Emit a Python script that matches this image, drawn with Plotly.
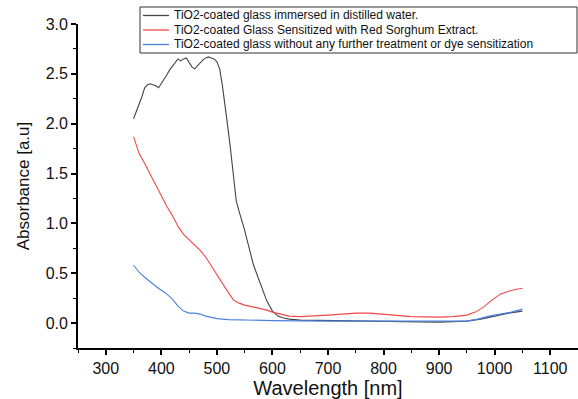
import plotly.graph_objects as go

# ---- data ----
wl_water = [350, 355, 360, 365, 370, 375, 380, 385, 390, 395, 400, 405, 410, 415, 420, 425, 430, 435,
            440, 445, 450, 455, 460, 465, 470, 475, 480, 485, 490, 495, 500, 505, 510, 515, 520, 525,
            530, 535, 540, 545, 550, 555, 560, 565, 570, 580, 590, 600, 610, 620, 630, 650, 700, 750,
            800, 850, 900, 950, 975, 1000, 1025, 1050]
abs_water = [2.05, 2.12, 2.20, 2.27, 2.36, 2.39, 2.40, 2.39, 2.38, 2.36, 2.40, 2.45, 2.49, 2.54, 2.58,
             2.62, 2.65, 2.63, 2.65, 2.66, 2.61, 2.57, 2.55, 2.58, 2.62, 2.64, 2.66, 2.67, 2.66, 2.65,
             2.62, 2.55, 2.38, 2.18, 1.95, 1.72, 1.48, 1.22, 1.12, 1.03, 0.93, 0.82, 0.70, 0.60, 0.52,
             0.36, 0.22, 0.12, 0.07, 0.05, 0.04, 0.03, 0.025, 0.02, 0.015, 0.01, 0.01, 0.02, 0.04,
             0.07, 0.10, 0.12]

wl_sorghum = [350, 355, 360, 370, 380, 390, 400, 410, 420, 430, 440, 450, 460, 470, 480, 490, 500,
              510, 520, 530, 540, 550, 560, 575, 590, 600, 615, 630, 650, 675, 700, 725, 750, 775,
              800, 825, 850, 900, 925, 950, 965, 980, 995, 1010, 1025, 1040, 1050]
abs_sorghum = [1.87, 1.78, 1.70, 1.60, 1.49, 1.38, 1.27, 1.17, 1.08, 0.97, 0.89, 0.84, 0.79, 0.73,
               0.66, 0.57, 0.48, 0.39, 0.31, 0.23, 0.20, 0.18, 0.17, 0.15, 0.13, 0.11, 0.09, 0.07,
               0.065, 0.07, 0.08, 0.09, 0.10, 0.10, 0.09, 0.075, 0.065, 0.06, 0.065, 0.08, 0.11,
               0.16, 0.23, 0.29, 0.32, 0.34, 0.35]

wl_plain = [350, 360, 370, 380, 390, 400, 410, 420, 430, 440, 450, 460, 470, 480, 490, 500, 520,
            550, 600, 700, 800, 900, 950, 970, 990, 1010, 1030, 1050]
abs_plain = [0.58, 0.51, 0.46, 0.41, 0.37, 0.33, 0.29, 0.24, 0.17, 0.12, 0.10, 0.10, 0.09, 0.07,
             0.055, 0.045, 0.035, 0.03, 0.025, 0.02, 0.02, 0.015, 0.02, 0.04, 0.07, 0.09, 0.11, 0.14]

names = ["TiO2-coated glass immersed in distilled water.",
         "TiO2-coated Glass Sensitized with Red Sorghum Extract.",
         "TiO2-coated glass without any further treatment or dye sensitization"]
colors = ["#444444", "#f04848", "#4a80e0"]

x_ticks = [300, 400, 500, 600, 700, 800, 900, 1000, 1100]
y_ticks = [0.0, 0.5, 1.0, 1.5, 2.0, 2.5, 3.0]
y_tick_text = ["0.0", "0.5", "1.0", "1.5", "2.0", "2.5", "3.0"]

fig = go.Figure()
for wl, ab, nm, col in zip([wl_water, wl_sorghum, wl_plain],
                           [abs_water, abs_sorghum, abs_plain], names, colors):
    fig.add_trace(go.Scatter(x=wl, y=ab, mode="lines", name=nm,
                             line=dict(color=col, width=1.1), showlegend=False))

# ---- custom legend (box, line samples, labels) ----
L, W_PLOT = 78, 500
B, H_PLOT = 348, 324
def px(xp):
    return (xp - L) / W_PLOT
def py(yp):
    return (B - yp) / H_PLOT

fig.add_shape(type="rect", xref="paper", yref="paper",
              x0=px(140), x1=px(577), y0=py(53), y1=py(7),
              line=dict(color="#333333", width=1), fillcolor="white", layer="above")
for i, (nm, col) in enumerate(zip(names, colors)):
    yc = 15.5 + i * 14.5
    fig.add_shape(type="line", xref="paper", yref="paper",
                  x0=px(143), x1=px(169), y0=py(yc), y1=py(yc),
                  line=dict(color=col, width=1.3), layer="above")
    fig.add_annotation(text=nm, xref="paper", yref="paper", x=px(173), y=py(yc),
                       xanchor="left", yanchor="middle", showarrow=False, borderpad=0,
                       font=dict(family="Liberation Sans, Arial", size=12, color="#111111"))

axis_font = dict(family="Liberation Sans, Arial", size=16, color="#111111")
fig.update_layout(
    width=578, height=399,
    margin=dict(l=L, r=0, t=24, b=51),
    paper_bgcolor="white", plot_bgcolor="white",
    font=dict(family="Liberation Sans, Arial", color="#111111"),
    xaxis=dict(range=[250, 1150], tickvals=x_ticks, ticks="outside", ticklen=5, tickwidth=1.5,
               tickcolor="black", showline=True, linecolor="black", linewidth=1.8,
               showgrid=False, zeroline=False, tickfont=axis_font,
               minor=dict(dtick=50, tick0=250, ticks="outside", ticklen=3, tickcolor="black",
                          tickwidth=1.2, showgrid=False),
               title=dict(text="Wavelength [nm]", standoff=3,
                          font=dict(family="Liberation Sans, Arial", size=20, color="#111111"))),
    yaxis=dict(range=[-0.25, 3.0], tickvals=y_ticks, ticktext=y_tick_text, ticks="outside",
               ticklen=5, tickwidth=1.5, tickcolor="black", showline=True, linecolor="black",
               linewidth=1.8, showgrid=False, zeroline=False, tickfont=axis_font,
               minor=dict(dtick=0.25, tick0=0, ticks="outside", ticklen=3, tickcolor="black",
                          tickwidth=1.2, showgrid=False),
               title=dict(text="Absorbance [a.u]", standoff=12,
                          font=dict(family="Liberation Sans, Arial", size=17, color="#111111"))),
)

fig.write_html("out.html")
